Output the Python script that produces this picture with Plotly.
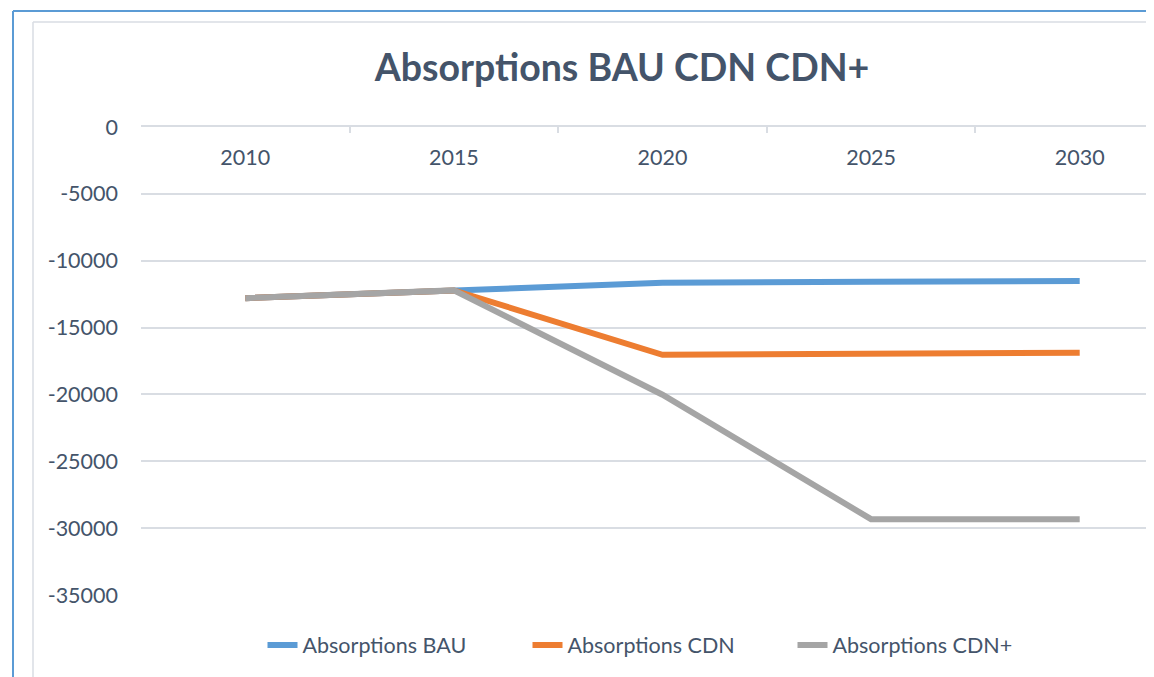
import plotly.graph_objects as go

years = ["2010", "2015", "2020", "2025", "2030"]
bau = [-12800, -12220, -11650, -11580, -11520]
cdn = [-12800, -12220, -17040, -16980, -16880]
cdn_plus = [-12800, -12220, -20020, -29330, -29330]
series_names = ["Absorptions BAU", "Absorptions CDN", "Absorptions CDN+"]
y_ticks = [0, -5000, -10000, -15000, -20000, -25000, -30000, -35000]

OFF = 8  # default page body margin
SW, SH = 1154, 677
W, H = SW - OFF, SH - OFF
# plot area in screen pixels
L_S, T_S, R_S, B_S = 141, 127, 1154, 595
ML, MT, MR, MB = L_S - OFF, T_S - OFF, 0, SH - B_S
PW, PH = W - ML - MR, H - MT - MB

def px(x):
    return (x - L_S) / PW

def py(y):
    return (B_S - y) / PH

TXT = "#44546A"
GRID = "#D9DDE3"
FONT = "Lato"
TICK_SIZE = 21.5
xrange_ = [-0.5, -0.5 + PW / 208.6]

fig = go.Figure()
colors = ["#5B9BD5", "#ED7D31", "#A5A5A5"]
for name, vals, c in zip(series_names, [bau, cdn, cdn_plus], colors):
    fig.add_trace(go.Scatter(x=years, y=vals, name=name, mode="lines",
                             line=dict(color=c, width=6)))
# invisible helper trace so the label axis (x2) is drawn
fig.add_trace(go.Scatter(x=years, y=bau, xaxis="x2", mode="lines", showlegend=False,
                         hoverinfo="skip", opacity=0, line=dict(width=0)))

fig.update_layout(
    width=W, height=H,
    margin=dict(l=ML, t=MT, r=MR, b=MB, autoexpand=False),
    paper_bgcolor="white", plot_bgcolor="white",
    font=dict(family=FONT, color=TXT, size=TICK_SIZE),
    title=dict(text="<b>Absorptions BAU CDN CDN+</b>", xref="container", yref="container",
               x=(622 - OFF) / W, y=1 - (68 - OFF) / H, xanchor="center", yanchor="middle",
               font=dict(family=FONT, size=37.5, color=TXT)),
    showlegend=True,
    legend=dict(orientation="h", x=px(660), y=py(645), xanchor="center", yanchor="middle",
                font=dict(family=FONT, size=TICK_SIZE, color=TXT), entrywidth=220,
                bgcolor="rgba(0,0,0,0)"),
    xaxis=dict(type="category", side="top", range=xrange_,
               ticks="inside", tickson="boundaries", ticklen=6, tickcolor=GRID, tickwidth=1.5,
               showticklabels=False,
               showline=True, linecolor=GRID, linewidth=1.5, showgrid=False, zeroline=False),
    xaxis2=dict(type="category", overlaying="x", side="bottom", anchor="free", position=py(142),
                range=xrange_, ticks="", showline=False, showgrid=False, zeroline=False,
                tickfont=dict(family=FONT, size=TICK_SIZE, color=TXT)),
    yaxis=dict(range=[-35000, 0], tickvals=y_ticks, ticktext=[str(v) for v in y_ticks],
               showgrid=True, gridcolor=GRID, gridwidth=1.5, zeroline=False, showline=False,
               ticks="", ticklabelstandoff=22,
               tickfont=dict(family=FONT, size=TICK_SIZE, color=TXT)),
    shapes=[
        dict(type="line", xref="paper", yref="paper", x0=px(13), x1=px(13), y0=py(11), y1=py(SH + 5),
             line=dict(color="#5B9BD5", width=2)),
        dict(type="line", xref="paper", yref="paper", x0=px(13), x1=px(SW + 5), y0=py(11), y1=py(11),
             line=dict(color="#5B9BD5", width=2)),
        dict(type="line", xref="paper", yref="paper", x0=px(33), x1=px(33), y0=py(22), y1=py(SH + 5),
             line=dict(color=GRID, width=1.5)),
        dict(type="line", xref="paper", yref="paper", x0=px(33), x1=px(SW + 5), y0=py(22), y1=py(22),
             line=dict(color=GRID, width=1.5)),
    ],
)

fig.write_html("out.html")
